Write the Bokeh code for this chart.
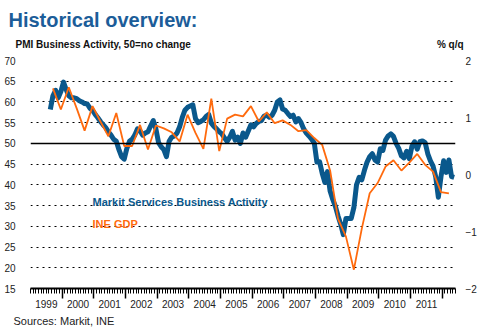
from bokeh.plotting import figure
from bokeh.models import Range1d, LinearAxis, FixedTicker, Span, Label, Grid, Title
from bokeh.embed import file_html
from bokeh.resources import INLINE

# ---------------- data ----------------
pmi_start = (1999, 8)  # first month of the Markit services PMI series
pmi_values = [
    58.2, 61.5, 62.8, 61.0, 62.5,                                       # Aug-Dec 1999
    64.8, 63.0, 61.5, 61.0, 61.0, 60.8, 60.3, 60.0, 59.6, 59.5, 58.5, 58.0,  # 2000
    57.0, 56.2, 55.3, 54.5, 53.8, 52.8, 52.0, 51.0, 50.5, 48.5, 46.8, 46.2,  # 2001
    48.8, 50.5, 51.0, 52.0, 53.5, 53.0, 52.0, 52.5, 52.8, 54.2, 55.5, 53.5,  # 2002
    50.2, 49.2, 48.5, 46.8, 50.5, 51.5, 51.8, 52.5, 54.0, 56.3, 58.0, 58.7,  # 2003
    59.0, 59.3, 56.0, 55.0, 55.3, 55.7, 56.5, 57.0, 54.9, 54.1, 53.5, 52.8,  # 2004
    52.3, 51.3, 50.5, 51.5, 52.9, 50.8, 51.5, 50.0, 52.5, 51.5, 53.0, 54.5,  # 2005
    54.0, 54.8, 55.3, 55.5, 56.6, 56.8, 56.3, 56.8, 58.0, 60.0, 60.5, 58.3,  # 2006
    58.0, 57.2, 56.5, 56.8, 55.2, 56.0, 55.0, 53.5, 52.5, 51.8, 51.0, 50.1,  # 2007
    45.5, 45.6, 42.8, 40.6, 43.2, 38.5, 36.5, 34.8, 32.5, 30.5, 28.0, 31.9,  # 2008
    31.9, 31.9, 34.5, 40.0, 41.8, 41.2, 43.5, 45.5, 46.8, 47.5, 46.0, 45.5,  # 2009
    48.7, 48.3, 50.8, 51.8, 52.3, 51.7, 50.0, 48.8, 47.0, 46.5, 48.1, 46.3,  # 2010
    49.3, 50.4, 48.6, 50.4, 50.6, 50.2, 47.5, 45.8, 44.5, 42.0, 37.0, 42.0,  # 2011
    45.8, 43.0, 46.0, 42.0, 41.8,                                       # Jan-May 2012
]

gdp_start = (1999, 3)  # first quarter of the INE GDP series (% q/q)
gdp_values = [
    1.51, 1.14,                    # 1999 Q3-Q4
    1.53, 1.16, 0.77, 1.20,        # 2000
    0.93, 0.67, 1.08, 0.50,        # 2001
    0.50, 0.87, 0.44, 0.86,        # 2002
    0.81, 0.74, 0.58, 1.05,        # 2003
    0.73, 0.45, 1.33, 0.41,        # 2004
    0.98, 1.05, 1.02, 1.20,        # 2005
    0.93, 1.09, 0.90, 0.95,        # 2006
    0.87, 0.76, 0.78, 0.64,        # 2007
    0.52, 0.07, -0.78, -1.09,      # 2008
    -1.67, -0.95, -0.33, -0.15,    # 2009
    0.14, 0.25, 0.07, 0.21,        # 2010
    0.36, 0.17, 0.05, -0.31,       # 2011
    -0.33,                         # 2012 Q1
]

year_labels = ["1999", "2000", "2001", "2002", "2003", "2004", "2005",
               "2006", "2007", "2008", "2009", "2010", "2011"]
left_ticks = [15, 20, 25, 30, 35, 40, 45, 50, 55, 60, 65, 70]
grid_levels = [20, 25, 30, 35, 40, 45, 55, 60, 65, 70]
right_ticks = [-2, -1, 0, 1, 2]

title_text = "Historical overview:"
left_unit_text = "PMI Business Activity, 50=no change"
right_unit_text = "% q/q"
pmi_name = "Markit Services Business Activity"
gdp_name = "INE GDP"
source_text = "Sources: Markit, INE"

# ---------------- time positions ----------------
pmi_t = []
yy, mm = pmi_start
for _ in pmi_values:
    pmi_t.append(yy + (mm - 0.5) / 12.0)
    mm += 1
    if mm > 12:
        mm = 1
        yy += 1

gdp_t = []
yy, qq = gdp_start
for _ in gdp_values:
    gdp_t.append(yy + (3 * qq - 0.5) / 12.0)
    qq += 1
    if qq > 4:
        qq = 1
        yy += 1

first_year = int(year_labels[0])
last_year = int(year_labels[-1]) + 1
x_end = last_year + 5 / 12.0

FONT = "Liberation Sans"
BLUE = "#0a588c"
ORANGE = "#ff6a0d"
TITLE_BLUE = "#1c5d99"
TXT = "#222222"

p = figure(width=479, height=331, title=None,
           x_range=Range1d(first_year, x_end), y_range=Range1d(15, 70),
           x_axis_type=None, y_axis_type=None,
           output_backend="svg", toolbar_location=None,
           min_border_left=30, min_border_right=23,
           min_border_top=60, min_border_bottom=43)
p.extra_y_ranges = {"gdp": Range1d(-2, 2)}
p.outline_line_color = None

# grid + 50 line
grid = Grid(dimension=1, ticker=FixedTicker(ticks=grid_levels),
            grid_line_color="black", grid_line_dash="2 4", grid_line_width=1.2)
p.add_layout(grid)
p.add_layout(Span(location=50, dimension="width", line_color="black", line_width=1.5))

# left / right value axes
la = LinearAxis(ticker=FixedTicker(ticks=left_ticks),
                axis_line_color=None, major_tick_line_color=None, minor_tick_line_color=None,
                major_label_standoff=9, major_label_text_font=FONT,
                major_label_text_font_size="10px", major_label_text_color=TXT)
p.add_layout(la, "left")

ra = LinearAxis(y_range_name="gdp", ticker=FixedTicker(ticks=right_ticks),
                axis_line_color=None, major_tick_line_color=None, minor_tick_line_color=None,
                major_label_standoff=4, major_label_text_font=FONT,
                major_label_text_font_size="10px", major_label_text_color=TXT)
p.add_layout(ra, "right")

# bottom time axis: year boundaries (long ticks) + months (short ticks), no labels
year_bounds = list(range(first_year + 1, last_year + 1))
month_bounds = [first_year + k / 12.0 for k in range(int(round((x_end - first_year) * 12)) + 1)]
ba = LinearAxis(ticker=FixedTicker(ticks=year_bounds, minor_ticks=month_bounds),
                axis_line_color="black", axis_line_width=2,
                major_tick_out=10, major_tick_in=0, major_tick_line_width=1.5,
                minor_tick_out=5, minor_tick_in=0, minor_tick_line_width=1,
                major_label_text_color=None, major_label_standoff=0,
                major_label_text_font_size="10px")
p.add_layout(ba, "below")

# year labels centred in each year
year_mids = [int(lab) + 0.5 for lab in year_labels]
ya = LinearAxis(ticker=FixedTicker(ticks=year_mids),
                major_label_overrides={m: lab for m, lab in zip(year_mids, year_labels)},
                axis_line_color=None, major_tick_line_color=None, minor_tick_line_color=None,
                major_tick_out=0, major_label_standoff=1, major_label_text_font=FONT,
                major_label_text_font_size="10px", major_label_text_color=TXT)
p.add_layout(ya, "below")

# unit captions above the plot (left and right)
cap_left_x, cap_right_x = 2001.3, 2012.25
ua = LinearAxis(ticker=FixedTicker(ticks=[cap_left_x, cap_right_x]),
                major_label_overrides={cap_left_x: left_unit_text, cap_right_x: right_unit_text},
                axis_line_color=None, major_tick_line_color=None, minor_tick_line_color=None,
                major_tick_out=0, major_label_standoff=11, major_label_text_font=FONT,
                major_label_text_font_size="10px", major_label_text_font_style="bold",
                major_label_text_color="#111111")
p.add_layout(ua, "above")

p.add_layout(Title(text=title_text, align="left", offset=-22, standoff=10,
                   text_font=FONT, text_font_size="20px", text_font_style="bold",
                   text_color=TITLE_BLUE), "above")

p.add_layout(Title(text=source_text, align="left", offset=-17, standoff=4,
                   text_font=FONT, text_font_size="11px", text_font_style="normal",
                   text_color=TXT), "below")

# series
p.line(pmi_t, pmi_values, line_color=BLUE, line_width=5, line_join="round")
p.line(gdp_t, gdp_values, y_range_name="gdp", line_color=ORANGE, line_width=1.8)

# in-plot legend texts (screen units relative to the frame's bottom-left)
for text, sy, col in [(pmi_name, 86.5, BLUE), (gdp_name, 64.5, ORANGE)]:
    p.add_layout(Label(x=62, y=sy, x_units="screen", y_units="screen", text=text,
                       text_align="left", text_baseline="alphabetic",
                       text_font=FONT, text_font_size="11px", text_color=col,
                       text_font_style="bold"))

open("out.html", "w").write(file_html(p, INLINE))
